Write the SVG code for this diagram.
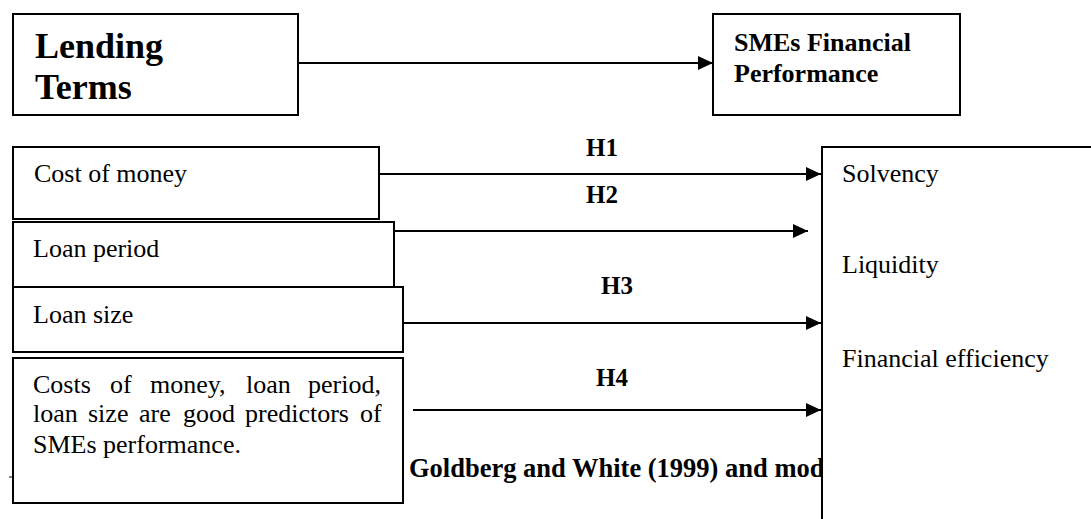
<svg xmlns="http://www.w3.org/2000/svg" width="1091" height="519" viewBox="0 0 1091 519">
  <style>
    .box { fill: #ffffff; stroke: #000000; stroke-width: 2; }
    .t { font-family: "Liberation Serif", "Times New Roman", serif; font-size: 26px; fill: #000000; }
    .b { font-weight: bold; }
    .conn { stroke: #000000; stroke-width: 2; fill: none; }
  </style>
  <defs>
    <marker id="arrow" markerUnits="userSpaceOnUse" markerWidth="15" markerHeight="14" refX="15" refY="7" orient="auto">
      <path d="M0,0 L15,7 L0,14 Z" fill="#000000"/>
    </marker>
  </defs>
  <rect width="1091" height="519" fill="#ffffff"/>

  <g id="lending-terms">
    <rect class="box" x="13" y="14" width="285" height="101"/>
    <text class="t b" x="35" y="58" style="font-size:36px">Lending</text>
    <text class="t b" x="35" y="99" style="font-size:36px">Terms</text>
  </g>

  <g id="smes-performance">
    <rect class="box" x="713" y="14" width="247" height="101"/>
    <text class="t b" x="734" y="51">SMEs Financial</text>
    <text class="t b" x="734" y="82">Performance</text>
  </g>

  <g id="cost-of-money">
    <rect class="box" x="13" y="147" width="366" height="72"/>
    <text class="t" x="34" y="182">Cost of money</text>
  </g>

  <g id="loan-period">
    <rect class="box" x="13" y="222" width="381" height="65"/>
    <text class="t" x="33" y="257">Loan period</text>
  </g>

  <g id="loan-size">
    <rect class="box" x="13" y="287" width="390" height="65"/>
    <text class="t" x="33" y="323">Loan size</text>
  </g>

  <g id="predictors">
    <rect class="box" x="13" y="358" width="390" height="145"/>
    <text class="t" y="393"><tspan x="33">Costs</tspan><tspan x="110">of</tspan><tspan x="150">money,</tspan><tspan x="246">loan</tspan><tspan x="308">period,</tspan></text>
    <text class="t" y="422"><tspan x="33">loan</tspan><tspan x="88">size</tspan><tspan x="139">are</tspan><tspan x="183">good</tspan><tspan x="245">predictors</tspan><tspan x="360">of</tspan></text>
    <text class="t" x="33" y="453">SMEs performance.</text>
    <line x1="9" y1="477" x2="13" y2="477" stroke="#000000" stroke-width="1"/>
  </g>

  <g id="source-note">
    <text class="t b" x="409" y="477" style="font-size:26.5px">Goldberg and White (1999) and mod</text>
  </g>

  <g id="connectors">
    <line class="conn" x1="298" y1="63" x2="713" y2="63" marker-end="url(#arrow)"/>
    <line class="conn" x1="379" y1="174" x2="821" y2="174" marker-end="url(#arrow)"/>
    <line class="conn" x1="394" y1="231" x2="808" y2="231" marker-end="url(#arrow)"/>
    <line class="conn" x1="403" y1="323" x2="821" y2="323" marker-end="url(#arrow)"/>
    <line class="conn" x1="413" y1="410" x2="821" y2="410" marker-end="url(#arrow)"/>
    <text class="t b" x="602" y="156" text-anchor="middle" style="font-size:25px">H1</text>
    <text class="t b" x="602" y="203" text-anchor="middle" style="font-size:25px">H2</text>
    <text class="t b" x="617" y="294" text-anchor="middle" style="font-size:25px">H3</text>
    <text class="t b" x="612" y="386" text-anchor="middle" style="font-size:25px">H4</text>
  </g>

  <g id="performance-measures">
    <rect class="box" x="822" y="147" width="300" height="400"/>
    <text class="t" x="842" y="182">Solvency</text>
    <text class="t" x="842" y="273">Liquidity</text>
    <text class="t" x="842" y="367">Financial efficiency</text>
  </g>
</svg>
